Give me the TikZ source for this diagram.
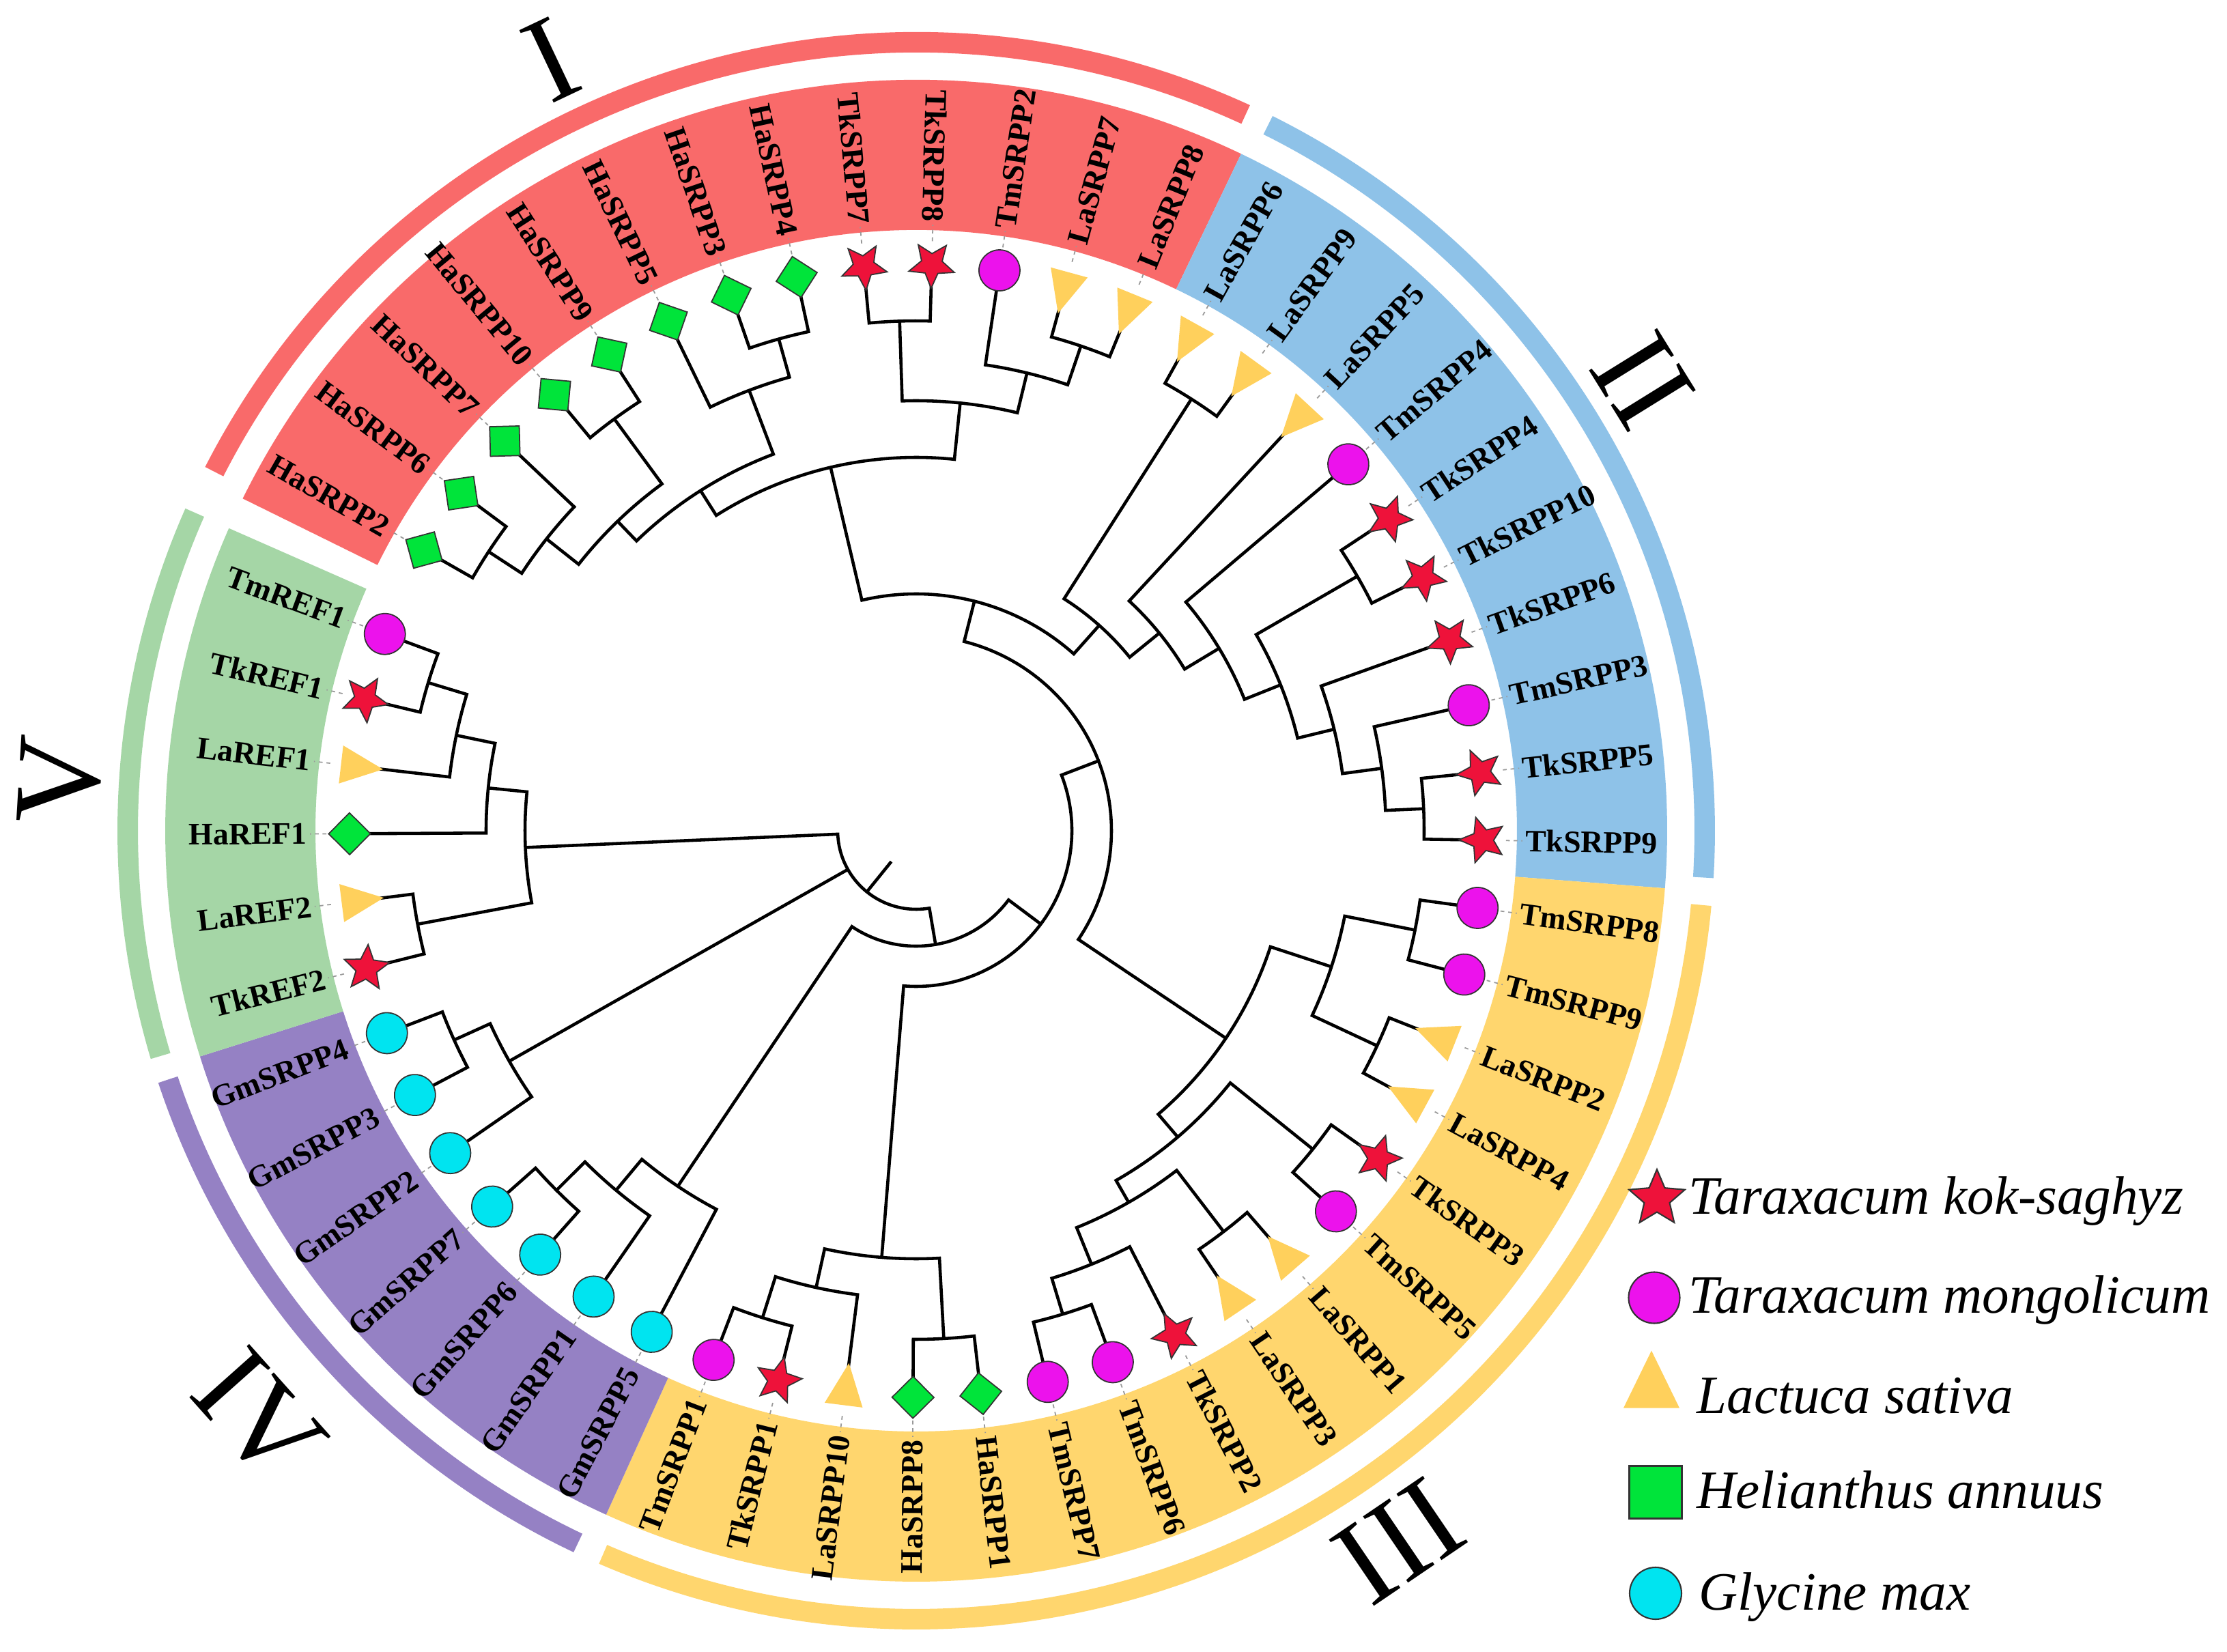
\documentclass[tikz,border=0pt]{standalone}
\usepackage{fontspec}
\setmainfont{Liberation Serif}
\usetikzlibrary{shapes.geometric}

\definecolor{cI}{RGB}{249,106,106}
\definecolor{cII}{RGB}{142,194,232}
\definecolor{cIII}{RGB}{255,214,110}
\definecolor{cIV}{RGB}{149,129,196}
\definecolor{cV}{RGB}{165,214,166}
\definecolor{fStar}{RGB}{238,18,58}
\definecolor{fMag}{RGB}{236,18,236}
\definecolor{fTri}{RGB}{255,208,92}
\definecolor{fDia}{RGB}{0,228,58}
\definecolor{fCya}{RGB}{0,228,240}

\tikzset{
  br/.style={line width=1.3pt, line join=miter},
  leader/.style={draw=black!40, line width=0.5pt, dash pattern=on 1.6pt off 1.6pt},
  symS/.style={star, star points=5, star point ratio=2.2, minimum size=0.70cm, inner sep=0pt, fill=fStar, draw=black!80, line width=0.5pt},
  symC/.style={circle, minimum size=0.60cm, inner sep=0pt, fill=fMag, draw=black!80, line width=0.5pt},
  symG/.style={circle, minimum size=0.60cm, inner sep=0pt, fill=fCya, draw=black!80, line width=0.5pt},
  symD/.style={diamond, aspect=1, minimum size=0.62cm, inner sep=0pt, fill=fDia, draw=black!80, line width=0.5pt},
  symT/.style={isosceles triangle, isosceles triangle stretches, shape border rotate=90, minimum width=0.56cm, minimum height=0.62cm, inner sep=0pt, fill=fTri},
  lab/.style={font=\fontsize{13}{14}\selectfont\bfseries, inner sep=0pt},
  numr/.style={font=\fontsize{51}{54}\selectfont, inner sep=0pt},
  legt/.style={font=\fontsize{22.5}{26}\selectfont\itshape, anchor=base west, inner sep=0pt},
}

% internal node: #1 radius, child A index #2 radius #3, child B index #4 radius #5
\newcommand{\cl}[5]{%
  \pgfmathsetmacro\aA{177.8-6.875*(#2)}%
  \pgfmathsetmacro\aB{177.8-6.875*(#4)}%
  \draw[br] (\aA:#3) -- (\aA:#1) arc[start angle=\aA, end angle=\aB, radius=#1] -- (\aB:#5);%
}
% leaf: index, type, name, flip
\newcommand{\leaf}[4]{%
  \pgfmathsetmacro\la{177.8-6.875*(#1)}%
  \pgfmathsetmacro\lr{\la+90}%
  \draw[leader] (\la:8.64) -- (\la:8.88);%
  \node[sym#2, rotate=\lr] (s#3) at (\la:8.30) {};%
  \ifnum#4=1\relax
    \pgfmathsetmacro\lf{\la+180}%
    \node[lab, anchor=east, rotate=\lf] (t#3) at (\la:8.92) {#3};%
  \else
    \node[lab, anchor=west, rotate=\la] (t#3) at (\la:8.92) {#3};%
  \fi}
\newcommand{\band}[3]{%
  \fill[#1] (#2:8.80) arc[start angle=#2, end angle=#3, radius=8.80] -- (#3:11.00) arc[start angle=#3, end angle=#2, radius=11.00] -- cycle;}
\newcommand{\ring}[3]{%
  \fill[#1] (#2:11.40) arc[start angle=#2, end angle=#3, radius=11.40] -- (#3:11.70) arc[start angle=#3, end angle=#2, radius=11.70] -- cycle;}

\begin{document}
\begin{tikzpicture}
\fill[white] (-13.42,-12.02) rectangle (19.20,12.17);
\useasboundingbox (-13.42,-12.02) rectangle (19.20,12.17);

% colour bands
\band{cI}{153.74}{64.36}
\band{cII}{64.36}{-4.39}
\band{cIII}{-4.39}{-114.39}
\band{cIV}{-114.39}{-162.51}
\band{cV}{-162.51}{-203.76}
\ring{cI}{152.9}{65.3}
\ring{cII}{63.5}{-3.4}
\ring{cIII}{-5.4}{-113.4}
\ring{cIV}{-115.4}{-161.6}
\ring{cV}{-163.4}{-203.8}

% ---- tree ----
% clade V
\cl{7.47}{2.6364}{8.3}{1.6364}{8.3}
\cl{6.88}{2.1364}{7.47}{0.6364}{8.3}
\cl{6.30}{1.3864}{6.88}{-0.3636}{8.3}
\cl{7.43}{-1.3636}{8.3}{-2.3636}{8.3}
\cl{5.73}{0.5114}{6.30}{-1.8636}{7.43}
% Gm upper
\cl{7.43}{49}{8.3}{48}{8.3}
\cl{6.85}{48.5}{7.43}{47}{8.3}
% clade II
\cl{7.44}{25}{8.3}{26}{8.3}
\cl{6.88}{24}{8.3}{25.5}{7.44}
\cl{6.30}{23}{8.3}{24.75}{6.88}
\cl{7.46}{21}{8.3}{22}{8.3}
\cl{5.75}{21.5}{7.46}{23.875}{6.30}
\cl{5.18}{20}{8.3}{22.6875}{5.75}
\cl{4.59}{19}{8.3}{21.34375}{5.18}
\cl{7.50}{17}{8.3}{18}{8.3}
\cl{4.03}{17.5}{7.50}{20.171875}{4.59}
% clade I
\cl{7.48}{4}{8.3}{5}{8.3}
\cl{6.90}{4.5}{7.48}{6}{8.3}
\cl{7.48}{7}{8.3}{8}{8.3}
\cl{6.30}{5.25}{6.90}{7.5}{7.48}
\cl{7.48}{10}{8.3}{11}{8.3}
\cl{6.90}{9}{8.3}{10.5}{7.48}
\cl{5.90}{6.375}{6.30}{9.75}{6.90}
\cl{7.47}{12}{8.3}{13}{8.3}
\cl{7.50}{15}{8.3}{16}{8.3}
\cl{6.90}{14}{8.3}{15.5}{7.50}
\cl{6.30}{12.5}{7.47}{14.75}{6.90}
\cl{5.47}{8.0625}{5.90}{13.625}{6.30}
\cl{3.47}{10.84375}{5.47}{18.8359}{4.03}
% clade III right
\cl{7.45}{27}{8.3}{28}{8.3}
\cl{7.45}{29}{8.3}{30}{8.3}
\cl{6.40}{27.5}{7.45}{29.5}{7.45}
\cl{7.45}{31}{8.3}{32}{8.3}
\cl{7.40}{36}{8.3}{37}{8.3}
\cl{6.85}{35}{8.3}{36.5}{7.40}
\cl{7.40}{33}{8.3}{34}{8.3}
\cl{6.27}{33.5}{7.40}{35.75}{6.85}
\cl{5.90}{31.5}{7.45}{34.625}{6.27}
\cl{5.46}{28.5}{6.40}{33.0625}{5.90}
\cl{2.86}{14.8398}{3.47}{30.78125}{5.46}
% clade III left
\cl{7.45}{38}{8.3}{39}{8.3}
\cl{7.48}{41}{8.3}{42}{8.3}
\cl{6.85}{40}{8.3}{41.5}{7.48}
\cl{6.27}{38.5}{7.45}{40.75}{6.85}
\cl{2.28}{22.8105}{2.86}{39.625}{6.27}
% Gm lower
\cl{7.45}{45}{8.3}{46}{8.3}
\cl{6.86}{44}{8.3}{45.5}{7.45}
\cl{6.27}{43}{8.3}{44.75}{6.86}
\cl{1.69}{31.2178}{2.28}{43.875}{6.27}
% root
\draw[br] (182.45:5.73) -- (182.45:1.15) arc[start angle=182.45, end angle=279.67, radius=1.15] -- (279.67:1.69);
\draw[br] (209.52:1.15) -- (209.52:6.85);
\draw[br] (231.06:0.58) -- (231.06:1.15);

% ---- leaves ----
\leaf{-2.3636}{S}{TkREF2}{1}
\leaf{-1.3636}{T}{LaREF2}{1}
\leaf{-0.3636}{D}{HaREF1}{1}
\leaf{0.6364}{T}{LaREF1}{1}
\leaf{1.6364}{S}{TkREF1}{1}
\leaf{2.6364}{C}{TmREF1}{1}
\leaf{4}{D}{HaSRPP2}{1}
\leaf{5}{D}{HaSRPP6}{1}
\leaf{6}{D}{HaSRPP7}{1}
\leaf{7}{D}{HaSRPP10}{1}
\leaf{8}{D}{HaSRPP9}{1}
\leaf{9}{D}{HaSRPP5}{1}
\leaf{10}{D}{HaSRPP3}{1}
\leaf{11}{D}{HaSRPP4}{1}
\leaf{12}{S}{TkSRPP7}{1}
\leaf{13}{S}{TkSRPP8}{1}
\leaf{14}{C}{TmSRPP2}{0}
\leaf{15}{T}{LaSRPP7}{0}
\leaf{16}{T}{LaSRPP8}{0}
\leaf{17}{T}{LaSRPP6}{0}
\leaf{18}{T}{LaSRPP9}{0}
\leaf{19}{T}{LaSRPP5}{0}
\leaf{20}{C}{TmSRPP4}{0}
\leaf{21}{S}{TkSRPP4}{0}
\leaf{22}{S}{TkSRPP10}{0}
\leaf{23}{S}{TkSRPP6}{0}
\leaf{24}{C}{TmSRPP3}{0}
\leaf{25}{S}{TkSRPP5}{0}
\leaf{26}{S}{TkSRPP9}{0}
\leaf{27}{C}{TmSRPP8}{0}
\leaf{28}{C}{TmSRPP9}{0}
\leaf{29}{T}{LaSRPP2}{0}
\leaf{30}{T}{LaSRPP4}{0}
\leaf{31}{S}{TkSRPP3}{0}
\leaf{32}{C}{TmSRPP5}{0}
\leaf{33}{T}{LaSRPP1}{0}
\leaf{34}{T}{LaSRPP3}{0}
\leaf{35}{S}{TkSRPP2}{0}
\leaf{36}{C}{TmSRPP6}{0}
\leaf{37}{C}{TmSRPP7}{0}
\leaf{38}{D}{HaSRPP1}{0}
\leaf{39}{D}{HaSRPP8}{1}
\leaf{40}{T}{LaSRPP10}{1}
\leaf{41}{S}{TkSRPP1}{1}
\leaf{42}{C}{TmSRPP1}{1}
\leaf{43}{G}{GmSRPP5}{1}
\leaf{44}{G}{GmSRPP1}{1}
\leaf{45}{G}{GmSRPP6}{1}
\leaf{46}{G}{GmSRPP7}{1}
\leaf{47}{G}{GmSRPP2}{1}
\leaf{48}{G}{GmSRPP3}{1}
\leaf{49}{G}{GmSRPP4}{1}

% ---- clade numerals ----
\node[numr, rotate=25.35] (nI) at (115.35:12.50) {I};
\node[numr, rotate=-58.2] (nII) at (31.8:12.52) {II};
\node[numr, rotate=34.2] (nIII) at (-55.8:12.58) {III};
\node[numr, rotate=-48.3] (nIV) at (221.7:12.90) {IV};
\node[numr, rotate=86.6] (nV) at (176.6:12.56) {V};

% ---- legend ----
\node[star, star points=5, star point ratio=2.2, minimum size=0.86cm, inner sep=0pt, fill=fStar, draw=black!80, line width=0.6pt] (kS) at (10.85,-5.39) {};
\node[circle, minimum size=0.75cm, inner sep=0pt, fill=fMag, draw=black!80, line width=0.6pt] (kC) at (10.81,-6.84) {};
\node[isosceles triangle, isosceles triangle stretches, shape border rotate=90, minimum width=0.82cm, minimum height=0.84cm, inner sep=0pt, fill=fTri] (kT) at (10.77,-8.20) {};
\node[rectangle, minimum size=0.77cm, inner sep=0pt, fill=fDia, draw=black!80, line width=0.6pt] (kD) at (10.83,-9.69) {};
\node[circle, minimum size=0.76cm, inner sep=0pt, fill=fCya, draw=black!80, line width=0.6pt] (kG) at (10.83,-11.17) {};
\node[legt] (lS) at (11.31,-5.61) {Taraxacum kok-saghyz};
\node[legt] (lC) at (11.31,-7.06) {Taraxacum mongolicum};
\node[legt] (lT) at (11.43,-8.53) {Lactuca sativa};
\node[legt] (lD) at (11.43,-9.92) {Helianthus annuus};
\node[legt] (lG) at (11.46,-11.41) {Glycine max};
\end{tikzpicture}
\end{document}
